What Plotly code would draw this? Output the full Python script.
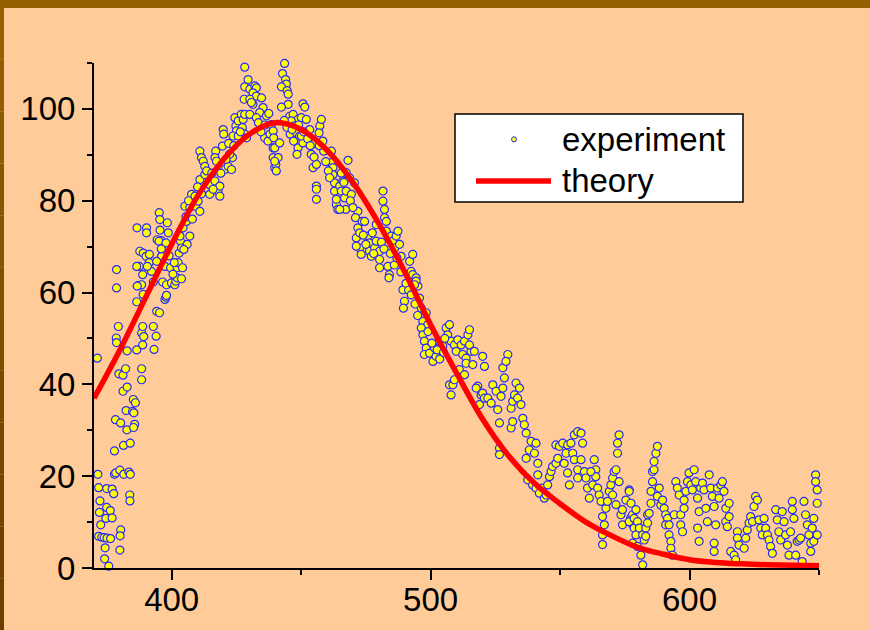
import plotly.graph_objects as go

# Theoretical emission spectrum, sampled every 10 nm
theory_wavelength = [370, 380, 390, 400, 410, 420, 430, 440, 450, 460, 470, 480, 490, 500,
                     510, 520, 530, 540, 550, 560, 570, 580, 590, 600, 610, 620, 630, 640, 650]
theory_intensity = [37.0, 47.5, 59.0, 70.5, 81.0, 89.0, 94.5, 97.0, 95.5, 91.0, 84.0, 75.0, 64.5, 53.0,
                    42.5, 32.5, 24.5, 18.5, 14.0, 10.0, 7.0, 4.5, 3.0, 1.8, 1.2, 0.9, 0.7, 0.6, 0.5]

# Measured spectrum: [wavelength (nm), intensity]
experiment_points = [
    # 370-388 nm
    [371.3, 45.7], [371.5, 20.4], [371.8, 17.5], [372.3, 14.6], [372.1, 12.1], [372.6, 9.4],
    [371.8, 6.9], [373.0, 6.7], [373.9, 6.6], [375.0, 6.5], [376.4, 6.4], [374.3, 4.4],
    [374.1, 2.0], [375.7, 0.4], [374.6, 10.8], [374.9, 13.2], [376.3, 12.5], [377.0, 10.9],
    [374.9, 17.3], [377.0, 17.2], [377.6, 16.2], [377.9, 20.4], [378.4, 20.7], [377.9, 25.5],
    [378.3, 32.3], [378.7, 65.0], [378.7, 61.0], [379.4, 52.6], [378.6, 50.1], [378.7, 49.1],
    [379.6, 42.3], [381.2, 42.0], [382.2, 43.4], [381.2, 38.5], [382.8, 39.4], [382.4, 34.3],
    [384.9, 34.1], [385.4, 33.8], [380.3, 31.6], [382.7, 30.1], [385.7, 31.3], [385.3, 30.6],
    [381.4, 26.7], [384.0, 27.2], [380.0, 21.3], [381.5, 20.4], [383.5, 20.9], [384.0, 20.4],
    [380.3, 8.3], [380.1, 7.0], [380.0, 3.9], [383.8, 15.9], [383.9, 14.6], [382.8, 47.3],
    [386.5, 47.5], [388.8, 48.6], [385.2, 36.7], [386.0, 36.0], [388.4, 43.4], [388.4, 41.0],
    # 388-440 nm
    [388.4, 51.2], [388.8, 52.6], [389.2, 50.4], [392.9, 52.6], [394.0, 50.5], [393.2, 47.6],
    [394.2, 55.9], [395.3, 55.6], [386.5, 58.0], [387.1, 61.5], [388.4, 61.7], [389.0, 59.6],
    [386.7, 61.4], [387.5, 65.7], [388.8, 63.9], [386.5, 65.7], [387.7, 69.0], [389.0, 68.6],
    [390.1, 67.9], [391.3, 66.5], [392.2, 64.6], [390.6, 65.7], [391.4, 68.3], [390.3, 74.1],
    [390.3, 73.0], [386.6, 74.1], [395.2, 77.4], [395.4, 75.9], [395.5, 73.6], [396.0, 71.3],
    [396.5, 70.6], [394.4, 71.5], [395.1, 71.2], [398.3, 75.2], [398.7, 73.0], [397.8, 70.8],
    [396.1, 67.9], [397.4, 65.7], [399.6, 65.4], [394.2, 66.8], [392.9, 62.3], [396.5, 62.3],
    [398.0, 61.7], [399.9, 62.1], [401.2, 61.7], [401.6, 62.5], [402.1, 63.2], [397.4, 58.5],
    [397.8, 59.0], [398.0, 59.4], [402.1, 65.4], [402.5, 66.5], [404.2, 65.4], [403.8, 63.0],
    [402.9, 68.6], [403.4, 71.2], [403.2, 72.3], [403.8, 69.7], [404.4, 74.1], [405.7, 75.5],
    [405.1, 78.8], [407.0, 78.5], [407.7, 81.4], [409.3, 78.8], [410.2, 79.9], [410.9, 77.7],
    [407.0, 72.3], [406.0, 70.5], [404.7, 69.4], [410.9, 90.8], [411.5, 89.4], [412.2, 88.6],
    [412.8, 87.5], [410.9, 84.6], [412.8, 85.7], [414.7, 81.4], [414.7, 83.5], [416.7, 84.3],
    [417.9, 82.1], [418.6, 81.0], [418.6, 83.2], [417.0, 90.8], [416.7, 89.4], [417.3, 88.6],
    [419.9, 95.5], [420.1, 94.5], [419.6, 91.9], [420.5, 86.8], [421.8, 87.5], [423.1, 86.8],
    [423.5, 89.4], [422.4, 90.1], [424.4, 98.1], [424.8, 96.3], [425.0, 95.2], [423.7, 94.1],
    [425.7, 97.4], [426.9, 98.8], [427.6, 97.7], [428.2, 98.8], [427.3, 95.9], [428.2, 94.5],
    [428.9, 93.7], [425.7, 94.1], [428.2, 109.1], [429.5, 106.4], [428.2, 104.8], [430.2, 104.3],
    [432.1, 105.0], [432.7, 104.6], [431.4, 103.5], [432.7, 102.8], [428.0, 102.1], [430.2, 102.1],
    [431.4, 101.0], [430.8, 101.4], [434.7, 102.4], [435.3, 100.3], [430.2, 98.8], [434.0, 99.2],
    [432.7, 98.1], [436.6, 98.5], [435.9, 93.7], [437.2, 93.0], [438.5, 96.6], [439.2, 91.5],
    [439.2, 89.4], [439.8, 87.2], [396.0, 69.5], [399.0, 68.0], [400.5, 64.0], [401.0, 66.5],
    [405.5, 76.5], [406.5, 80.0], [408.0, 76.0], [409.0, 81.0], [410.0, 83.0], [411.5, 81.5],
    [413.5, 86.5], [415.5, 86.0], [416.0, 82.5], [419.0, 86.0], [421.0, 89.0], [422.0, 92.5],
    [424.0, 92.0], [426.5, 95.0], [433.5, 97.0], [434.5, 95.0], [436.0, 96.5], [437.5, 99.0],
    [438.0, 94.5],
    # 440-508 nm
    [443.6, 109.9], [442.8, 107.7], [444.0, 106.4], [444.3, 105.4], [442.4, 104.8], [444.6, 104.0],
    [445.0, 103.2], [445.0, 101.0], [442.4, 100.4], [450.7, 101.1], [451.4, 100.4], [439.2, 95.2],
    [439.4, 93.7], [439.8, 91.5], [441.1, 89.4], [440.2, 87.9], [440.4, 86.5], [439.8, 88.6],
    [441.7, 92.6], [445.6, 98.4], [446.9, 98.8], [448.8, 97.7], [450.1, 98.1], [452.0, 97.7],
    [446.2, 97.4], [447.5, 96.3], [445.8, 94.5], [448.2, 94.8], [449.4, 94.1], [447.1, 93.0],
    [448.8, 91.5], [448.4, 90.1], [450.7, 92.6], [450.1, 94.1], [453.3, 95.5], [454.6, 92.4],
    [457.2, 96.3], [457.8, 97.7], [456.9, 94.8], [458.4, 93.0], [458.7, 90.8], [453.9, 90.1],
    [454.6, 87.2], [455.9, 87.9], [455.9, 83.2], [455.9, 82.5], [455.9, 80.3], [461.7, 90.8],
    [461.7, 88.3], [462.3, 87.2], [462.3, 85.7], [462.9, 83.9], [462.9, 82.1], [463.6, 79.2],
    [464.2, 78.1], [463.6, 80.3], [464.9, 83.2], [466.1, 84.3], [465.5, 82.1], [466.8, 80.6],
    [467.4, 82.1], [468.1, 88.8], [467.4, 86.1], [468.7, 85.0], [469.4, 81.4], [470.6, 83.9],
    [467.2, 78.1], [464.9, 78.1], [471.9, 77.7], [471.0, 76.3], [471.9, 74.1], [471.3, 71.9],
    [472.6, 73.0], [473.6, 75.5], [472.6, 69.7], [473.2, 68.3], [471.3, 70.1], [474.5, 75.5],
    [475.8, 72.3], [476.4, 70.8], [476.4, 69.0], [477.1, 67.9], [478.4, 69.7], [479.0, 71.2],
    [479.0, 74.8], [480.3, 69.0], [480.3, 67.2], [480.3, 65.4], [483.5, 65.7], [484.1, 63.9],
    [483.9, 63.2], [481.6, 82.1], [481.6, 79.9], [482.2, 78.1], [482.2, 76.3], [482.9, 75.5],
    [482.9, 73.4], [484.8, 72.3], [485.4, 71.2], [486.7, 72.3], [487.4, 73.4], [486.1, 69.7],
    [488.0, 70.5], [488.6, 67.9], [489.3, 60.6], [489.9, 58.1], [489.5, 56.6], [491.9, 66.8],
    [493.1, 68.3], [492.5, 64.6], [493.1, 63.9], [494.4, 63.2], [495.1, 61.4], [494.4, 62.5],
    [493.8, 61.7], [495.7, 58.8], [496.4, 56.6], [498.3, 55.6], [497.0, 53.7], [498.9, 53.0],
    [496.4, 52.3], [497.0, 50.8], [497.6, 49.4], [498.3, 47.9], [497.6, 46.5], [499.6, 46.8],
    [501.5, 47.9], [500.9, 45.0], [502.1, 46.1], [503.4, 49.4], [504.7, 48.3], [506.0, 52.3],
    [506.6, 50.8], [507.9, 49.4], [507.3, 39.9], [507.9, 37.7], [443.5, 97.5], [444.5, 96.0],
    [446.5, 95.5], [449.0, 96.5], [451.0, 95.0], [452.5, 93.5], [453.5, 92.0], [455.0, 89.5],
    [457.0, 92.0], [459.5, 88.5], [460.5, 86.5], [461.0, 85.0], [465.5, 86.0], [466.5, 84.0],
    [469.0, 80.0], [470.0, 78.5], [474.0, 72.5], [475.0, 70.5], [477.5, 73.0], [478.0, 68.5],
    [481.0, 71.0], [482.0, 69.5], [484.5, 68.5], [486.0, 66.0], [487.0, 67.5], [488.5, 64.5],
    [490.5, 62.0], [491.5, 60.5], [492.5, 59.5], [494.0, 57.5], [495.0, 55.0], [499.0, 51.5],
    [500.5, 49.0], [502.5, 47.5], [503.5, 45.5], [505.0, 47.0], [505.5, 50.0],
    # 508-578 nm
    [507.3, 53.0], [509.2, 48.6], [510.5, 49.7], [511.8, 48.6], [513.1, 49.4], [514.4, 50.8],
    [515.0, 51.9], [509.9, 47.2], [512.4, 46.5], [513.7, 45.7], [515.6, 47.2], [515.0, 48.6],
    [508.6, 39.9], [509.2, 41.0], [511.1, 43.2], [513.1, 42.1], [513.7, 44.6], [516.3, 44.3],
    [516.9, 47.2], [518.2, 39.6], [518.9, 35.6], [519.5, 37.7], [520.1, 38.1], [520.8, 37.0],
    [522.1, 37.0], [523.4, 35.9], [524.0, 39.9], [517.6, 39.2], [520.1, 46.1], [520.8, 43.9],
    [525.3, 38.5], [525.9, 34.5], [527.2, 37.4], [527.9, 39.2], [528.5, 41.4], [527.9, 43.6],
    [529.8, 46.5], [529.1, 45.0], [526.6, 31.6], [526.6, 26.1], [526.6, 24.7], [531.1, 34.8],
    [531.7, 36.3], [532.4, 37.7], [533.0, 40.3], [533.6, 37.0], [534.3, 39.2], [534.9, 35.6],
    [535.6, 32.6], [536.2, 31.2], [536.9, 29.4], [531.1, 30.5], [531.7, 31.9], [536.9, 23.9],
    [538.1, 25.7], [538.8, 27.6], [540.1, 25.0], [540.7, 27.2], [541.4, 22.8], [537.5, 19.2],
    [539.4, 18.1], [541.4, 20.3], [540.7, 17.4], [542.0, 16.3], [543.3, 17.4], [543.9, 15.2],
    [544.6, 15.9], [545.2, 18.1], [545.9, 19.9], [546.5, 21.0], [547.1, 22.1], [548.4, 22.8],
    [548.4, 26.8], [549.1, 23.9], [549.7, 26.5], [551.0, 27.2], [552.3, 25.0], [552.9, 26.8],
    [554.2, 27.2], [554.9, 25.0], [555.5, 29.0], [556.8, 29.7], [558.1, 29.4], [558.7, 27.2],
    [551.6, 22.8], [552.9, 20.7], [553.6, 18.1], [555.5, 23.6], [556.8, 21.4], [556.8, 19.6],
    [558.1, 23.6], [559.4, 21.0], [560.0, 19.6], [560.6, 17.4], [561.3, 15.2], [562.6, 18.1],
    [563.2, 23.6], [563.8, 21.4], [564.5, 17.4], [565.1, 15.9], [565.8, 14.5], [563.8, 19.9],
    [561.9, 21.0], [566.4, 11.2], [567.1, 9.4], [566.4, 7.2], [566.4, 5.1], [567.7, 13.0],
    [568.3, 14.5], [569.0, 16.7], [569.6, 18.1], [570.3, 19.6], [570.9, 21.0], [571.6, 21.4],
    [572.8, 29.0], [572.2, 27.2], [572.2, 25.0], [570.3, 15.9], [571.6, 13.8], [572.8, 18.8],
    [573.5, 11.6], [574.1, 9.4], [574.1, 12.7], [575.4, 14.8], [576.7, 17.0], [577.3, 10.9],
    [578.0, 9.4],
    # 578-650 nm
    [576.7, 16.7], [577.4, 14.1], [578.0, 11.6], [578.6, 8.7], [579.3, 7.2], [576.7, 10.1],
    [578.0, 5.4], [579.9, 4.7], [581.2, 2.8], [581.9, 0.7], [579.3, 12.7], [578.6, 10.8],
    [579.9, 10.1], [580.6, 8.7], [581.9, 7.2], [582.5, 6.1], [583.1, 8.7], [583.8, 11.6],
    [583.1, 6.9], [583.8, 9.8], [584.4, 11.9], [585.1, 14.1], [585.1, 16.7], [585.7, 18.8],
    [585.7, 21.0], [586.3, 23.2], [587.0, 25.0], [587.6, 26.5], [586.3, 21.4], [588.3, 17.4],
    [587.6, 15.6], [588.9, 13.7], [589.6, 14.8], [590.2, 13.0], [590.8, 11.6], [591.5, 10.8],
    [590.8, 9.4], [592.1, 9.4], [592.1, 7.2], [592.8, 5.8], [592.8, 4.3], [593.4, 2.8],
    [594.1, 11.6], [594.7, 18.8], [595.3, 17.4], [596.0, 15.9], [596.6, 11.6], [596.6, 9.4],
    [597.3, 7.9], [597.9, 13.0], [597.9, 14.8], [598.6, 16.7], [599.2, 18.8], [599.8, 20.7],
    [600.5, 18.1], [601.1, 17.0], [601.8, 21.4], [602.4, 18.8], [603.1, 15.2], [603.7, 12.3],
    [603.1, 8.7], [603.7, 5.8], [604.3, 17.4], [605.0, 18.5], [605.6, 17.0], [606.3, 13.0],
    [606.9, 10.1], [607.6, 20.3], [608.2, 17.4], [608.8, 15.6], [609.5, 13.4], [609.5, 5.4],
    [609.5, 3.6], [610.1, 9.4], [610.8, 17.4], [611.4, 15.2], [612.1, 18.1], [612.7, 18.8],
    [613.3, 16.7], [614.0, 13.0], [614.0, 10.1], [614.6, 9.0], [615.3, 14.1], [615.3, 11.2],
    [615.9, 3.6], [617.2, 2.8], [617.8, 1.8], [618.5, 7.9], [618.5, 6.5], [619.1, 5.0],
    [621.1, 4.3], [621.7, 6.5], [622.3, 8.3], [623.0, 9.8], [623.6, 11.2], [624.3, 10.1],
    [624.9, 13.4], [625.5, 15.6], [626.2, 14.8], [626.8, 10.5], [627.5, 8.7], [628.1, 7.2],
    [628.8, 10.8], [629.4, 8.7], [630.1, 7.2], [630.7, 6.1], [631.3, 4.7], [632.0, 3.2],
    [633.3, 12.7], [633.9, 10.5], [634.5, 7.9], [635.2, 6.1], [635.8, 12.3], [636.5, 10.1],
    [637.1, 7.2], [637.8, 5.0], [638.4, 2.8], [639.0, 7.9], [639.7, 14.5], [639.7, 12.7],
    [640.3, 10.8], [641.0, 2.8], [641.6, 5.8], [642.3, 6.1], [642.9, 6.5], [643.5, 1.4],
    [644.2, 14.5], [644.8, 11.6], [645.5, 9.4], [646.1, 7.2], [646.8, 5.4], [646.8, 3.6],
    [647.4, 8.7], [648.0, 5.8], [648.0, 10.8], [648.7, 20.3], [648.7, 18.8], [649.3, 17.0],
    [649.3, 14.1], [649.3, 7.2],
]
exp_wavelength = [p[0] for p in experiment_points]
exp_intensity = [p[1] for p in experiment_points]

legend_labels = ["experiment", "theory"]

BG = "#FFCC99"
BROWN = "#956000"
MARKER_EDGE = "#2828FF"
FONT = "Liberation Sans, Arial, Helvetica, sans-serif"
W, H = 870, 630
ML, MR, MT, MB = 94, 51, 63, 62
PW, PH = W - ML - MR, H - MT - MB


def px_x(px):
    """Page pixel column -> paper x."""
    return (px - ML) / PW


def px_y(py):
    """Page pixel row -> paper y."""
    return (H - MB - py) / PH


fig = go.Figure()

fig.add_trace(go.Scatter(
    x=exp_wavelength, y=exp_intensity, mode="markers", name=legend_labels[0],
    marker=dict(size=8, color="#FFFF00", line=dict(color=MARKER_EDGE, width=1.2)),
    cliponaxis=False, showlegend=False,
))
fig.add_trace(go.Scatter(
    x=theory_wavelength, y=theory_intensity, mode="lines", name=legend_labels[1],
    line=dict(color="#FF0000", width=5.5, shape="spline", smoothing=1.0),
    cliponaxis=False, showlegend=False,
))

shapes = []
# frame strips along the top and left edges of the page
shapes.append(dict(type="rect", xref="paper", yref="paper",
                   x0=px_x(0), x1=px_x(W), y0=px_y(8), y1=px_y(0),
                   fillcolor=BROWN, line=dict(width=0), layer="above"))
n_seg = 12
for i in range(n_seg):
    t = i / (n_seg - 1)
    r = int(0x95 + (0x6A - 0x95) * t)
    g = int(0x60 + (0x40 - 0x60) * t)
    shapes.append(dict(type="rect", xref="paper", yref="paper",
                       x0=px_x(0), x1=px_x(4),
                       y0=px_y(8 + (H - 8) * (i + 1) / n_seg), y1=px_y(8 + (H - 8) * i / n_seg),
                       fillcolor=f"rgb({r},{g},0)", line=dict(width=0), layer="above"))

# legend box
shapes.append(dict(type="rect", xref="paper", yref="paper",
                   x0=px_x(455), x1=px_x(743), y0=px_y(202), y1=px_y(114),
                   fillcolor="white", line=dict(color="black", width=1.5), layer="above"))
shapes.append(dict(type="line", xref="paper", yref="paper",
                   x0=px_x(476), x1=px_x(551), y0=px_y(181), y1=px_y(181),
                   line=dict(color="#FF0000", width=5.5), layer="above"))
shapes.append(dict(type="circle", xref="paper", yref="paper",
                   x0=px_x(511.5), x1=px_x(516.5), y0=px_y(141.8), y1=px_y(136.8),
                   fillcolor="#FFFF00", line=dict(color=MARKER_EDGE, width=1), layer="above"))

annotations = [
    dict(text=legend_labels[0], xref="paper", yref="paper", x=px_x(560), y=px_y(139),
         xanchor="left", yanchor="middle", showarrow=False,
         font=dict(family=FONT, size=33, color="black")),
    dict(text=legend_labels[1], xref="paper", yref="paper", x=px_x(560), y=px_y(180),
         xanchor="left", yanchor="middle", showarrow=False,
         font=dict(family=FONT, size=33, color="black")),
]

axis_common = dict(
    showgrid=False, zeroline=False, showline=True, linecolor="black", linewidth=2,
    ticks="outside", ticklen=10, tickwidth=2, tickcolor="black", automargin=False,
    tickfont=dict(family=FONT, size=33, color="black"), mirror=False,
)

fig.update_layout(
    width=W, height=H, margin=dict(l=ML, r=MR, t=MT, b=MB, pad=0),
    paper_bgcolor=BG, plot_bgcolor=BG, showlegend=False,
    shapes=shapes, annotations=annotations,
    xaxis=dict(range=[370, 650], tickmode="linear", tick0=400, dtick=100, ticklabelstandoff=-9,
               minor=dict(dtick=50, tick0=400, ticks="outside", ticklen=5, tickwidth=2, tickcolor="black"),
               **axis_common),
    yaxis=dict(range=[0, 110], tickmode="linear", tick0=0, dtick=20,
               minor=dict(dtick=10, tick0=0, ticks="outside", ticklen=5, tickwidth=2, tickcolor="black"),
               **axis_common),
)

fig.write_html("out.html")
